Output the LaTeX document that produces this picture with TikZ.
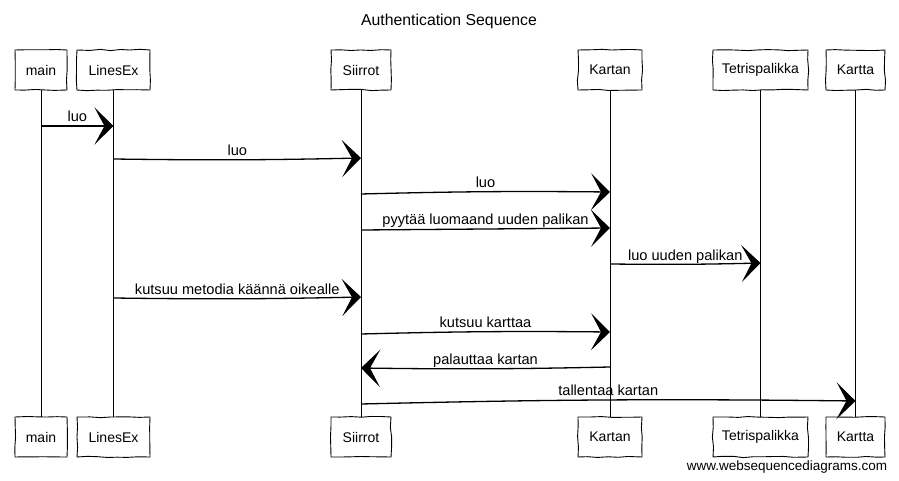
\documentclass[tikz,border=0pt]{standalone}
\usepackage{fontspec}
\setmainfont{Liberation Sans}
\usetikzlibrary{arrows.meta,decorations.pathmorphing}

\begin{document}
\begin{tikzpicture}[x=1pt,y=-1pt,
        actor/.style={draw=black,line width=0.9pt,minimum height=40pt,inner sep=0pt,font=\fontsize{14}{16}\selectfont,decorate,decoration={random steps,segment length=10pt,amplitude=0.7pt}},
        life/.style={line width=0.6pt},
        msg/.style={line width=1.3pt,-{Stealth[length=19pt,width=37pt,inset=10pt]}},
        lbl/.style={font=\fontsize{14.6}{16}\selectfont,inner sep=0pt,anchor=base,yshift=4pt}]
        \useasboundingbox (0,0) rectangle (899,481);

        \node[font=\fontsize{15.8}{18}\selectfont] (title) at (449,21) {Authentication Sequence};

        \node[actor,minimum width=52pt] (mainT) at (41,70) {main};
        \node[actor,minimum width=73pt] (linesT) at (113.5,70) {LinesEx};
        \node[actor,minimum width=60pt] (siirT) at (361,70) {Siirrot};
        \node[actor,minimum width=64pt] (kartanT) at (610,70) {Kartan};
        \node[actor,minimum width=95pt] (tetrT) at (760.5,70) {Tetrispalikka};
        \node[actor,minimum width=59pt] (karttaT) at (855.5,70) {Kartta};

        \node[actor,minimum width=52pt] (mainB) at (41,437) {main};
        \node[actor,minimum width=73pt] (linesB) at (113.5,437) {LinesEx};
        \node[actor,minimum width=60pt] (siirB) at (361,437) {Siirrot};
        \node[actor,minimum width=64pt] (kartanB) at (610,437) {Kartan};
        \node[actor,minimum width=95pt] (tetrB) at (760.5,437) {Tetrispalikka};
        \node[actor,minimum width=59pt] (karttaB) at (855.5,437) {Kartta};

        \draw[life] (mainT) -- (mainB);
        \draw[life] (linesT) -- (linesB);
        \draw[life] (siirT) -- (siirB);
        \draw[life] (kartanT) -- (kartanB);
        \draw[life] (tetrT) -- (tetrB);
        \draw[life] (karttaT) -- (karttaB);

        \draw[msg] (mainT |- 0,126) -- node[lbl] {luo} (linesT |- 0,126);
        \draw[msg] (linesT |- 0,159) to[bend right=1] node[lbl] {luo} (siirT |- 0,158);
        \draw[msg] (siirT |- 0,194) to[bend left=1] node[lbl] {luo} (kartanT |- 0,192);
        \draw[msg] (siirT |- 0,230) -- node[lbl] {pyytää luomaand uuden palikan} (kartanT |- 0,228);
        \draw[msg] (kartanT |- 0,264) to[bend right=1] node[lbl] {luo uuden palikan} (tetrT |- 0,263);
        \draw[msg] (linesT |- 0,298) to[bend right=1] node[lbl] {kutsuu metodia käännä oikealle} (siirT |- 0,297);
        \draw[msg] (siirT |- 0,334) to[bend left=1] node[lbl] {kutsuu karttaa} (kartanT |- 0,332);
        \draw[msg] (kartanT |- 0,367) to[bend left=1] node[lbl] {palauttaa kartan} (siirT |- 0,368);
        \draw[msg] (siirT |- 0,404) to[bend left=1] node[lbl] {tallentaa kartan} (karttaT |- 0,401);

        \node[font=\fontsize{13.5}{16}\selectfont] (wsd) at (787,467) {www.websequencediagrams.com};
    \end{tikzpicture}
\end{document}
